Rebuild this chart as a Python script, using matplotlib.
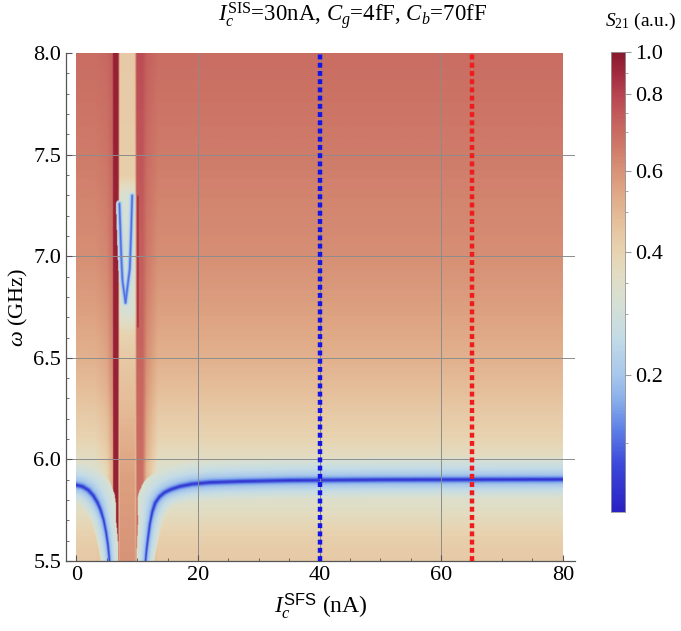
import numpy as np
import matplotlib
matplotlib.use("Agg")
import matplotlib.pyplot as plt
from matplotlib.colors import LinearSegmentedColormap

plt.rcParams['font.family'] = ['Liberation Serif', 'DejaVu Serif']
plt.rcParams['mathtext.fontset'] = 'custom'
plt.rcParams['mathtext.rm'] = 'Liberation Serif'
plt.rcParams['mathtext.it'] = 'Liberation Serif:italic'
plt.rcParams['mathtext.sf'] = 'Liberation Sans'

# --- values ---
# S21 far from any resonance, as a function of omega (GHz)
bg_omega = [5.5, 5.6, 5.7, 5.8, 5.95, 6.0, 6.1, 6.2, 6.35, 6.5, 6.75, 7.0, 7.5, 8.0]
bg_s21 = [0.44, 0.42, 0.38, 0.34, 0.33, 0.36, 0.40, 0.43, 0.48, 0.52, 0.57, 0.61, 0.66, 0.70]

# resonance line, left and right of the stripes (Ic in nA, omega in GHz)
res_left_ic = [0, 1, 2, 2.8, 3.5, 4.0, 4.5, 4.9, 5.2, 5.4, 5.5]
res_left_omega = [5.872, 5.865, 5.847, 5.82, 5.785, 5.75, 5.70, 5.64, 5.58, 5.52, 5.48]
res_right_ic = [11.3, 11.4, 11.55, 11.75, 12.1, 12.5, 13.0, 13.7, 14.5, 15.5, 17, 19, 22, 27, 35, 50, 80]
res_right_omega = [5.45, 5.5, 5.55, 5.6, 5.68, 5.74, 5.785, 5.815, 5.835, 5.85, 5.865,
                   5.877, 5.885, 5.89, 5.895, 5.898, 5.9]

# V-shaped resonance inside the pale stripe
v_ic = [7.1, 7.4, 7.6, 8.1, 8.8, 9.0, 9.2]
v_omega = [7.26, 7.0, 6.88, 6.77, 6.94, 7.10, 7.30]

# S21 across the resonance vs distance from it (screen px)
dip_px = [0, 1, 2, 3.5, 6, 10, 15, 22]
dip_s21 = [0.03, 0.07, 0.12, 0.17, 0.21, 0.25, 0.29, 0.33]
dipv_px = [0, 1, 2, 3.5]
dipv_s21 = [0.08, 0.15, 0.24, 0.3]

# vertical stripes around Ic = 6..11 nA
dark_ic = [5.9, 6.15, 6.85, 7.05]
dark_s21 = 0.95
mid_ic = [6.9, 7.2, 9.6, 9.9]
mid_omega = [5.5, 5.9, 6.2, 6.5, 6.62, 6.72, 7.0, 7.3, 7.4, 8.0]
mid_s21 = [0.60, 0.57, 0.50, 0.44, 0.40, 0.32, 0.30, 0.32, 0.42, 0.44]
red2_ic = [9.7, 9.95, 10.9, 11.6, 13.5]
red2_w = [0, 1, 1, 0.45, 0]
red2_omega = [5.5, 6.5, 8.0]
red2_s21 = [0.68, 0.72, 0.78]
halo_ic = [3.0, 5.0, 5.9]
halo_w = [0, 0.12, 0.4]
halo_s21 = 0.8
dots_ic = 10.15
dots_omega = [6.65, 7.3]

# markers of the two cuts
cut_ic = [40, 65]
cut_colors = ['#1414e6', '#ee1c1c']

# colour bar: tick values and their relative height on the bar
cb_values = [0.0, 0.2, 0.4, 0.6, 0.8, 1.0]
cb_frac = [0.0, 0.298, 0.565, 0.741, 0.909, 1.0]
cb_minor = [0.1, 0.3, 0.35, 0.5, 0.55, 0.7, 0.75, 0.9]

cmap = LinearSegmentedColormap.from_list('s21', [
    (0.00, '#2a22c4'), (0.10, '#3c48da'), (0.18, '#5f82e6'), (0.24, '#88aeea'),
    (0.298, '#a8c8ec'), (0.38, '#c4dce6'), (0.46, '#d8e0d2'), (0.52, '#e2dcc2'),
    (0.565, '#e8d4b2'), (0.63, '#e6c09c'), (0.69, '#e0aa88'), (0.741, '#d89478'),
    (0.80, '#ce7868'), (0.86, '#c45e5c'), (0.909, '#b84552'), (0.96, '#a02a3c'),
    (1.00, '#8a1a2e')])

# --- build the map ---
px_x, px_y = 6.08, 203.2  # screen px per nA and per GHz
x = np.linspace(0, 80, 900)
w = np.linspace(5.5, 8.0, 520)
X, W = np.meshgrid(x, w)


def lerp(a, b, t):
    return a * (1 - t) + b * t


def poly_dist(xs, ys):
    xs = np.asarray(xs) * px_x
    ys = np.asarray(ys) * px_y
    Xp, Wp = X * px_x, W * px_y
    d = np.full(X.shape, np.inf)
    for i in range(len(xs) - 1):
        dx, dy = xs[i + 1] - xs[i], ys[i + 1] - ys[i]
        t = np.clip(((Xp - xs[i]) * dx + (Wp - ys[i]) * dy) / (dx * dx + dy * dy), 0, 1)
        d = np.minimum(d, np.hypot(Xp - xs[i] - t * dx, Wp - ys[i] - t * dy))
    return d


S = np.interp(W, bg_omega, bg_s21)
S = lerp(S, np.interp(W, red2_omega, red2_s21), np.interp(X, red2_ic, red2_w))
S = lerp(S, halo_s21, np.interp(X, halo_ic, halo_w, right=0))
S = lerp(S, np.interp(W, mid_omega, mid_s21), np.interp(X, mid_ic, [0, 1, 1, 0]))
S = lerp(S, dark_s21, np.interp(X, dark_ic, [0, 1, 1, 0]))
on_dots = (np.abs(X - dots_ic) < 0.15) & (W > dots_omega[0]) & (W < dots_omega[1])
S[on_dots] = 0.88

scale = np.interp(W, [5.5, 5.7, 5.82, 5.9], [0.4, 0.55, 0.85, 1.0])
d_res = np.minimum(poly_dist(res_left_ic, res_left_omega),
                   poly_dist(res_right_ic, res_right_omega)) / scale
S = np.minimum(S, np.interp(d_res, dip_px, dip_s21, right=1.0))
S = np.minimum(S, np.interp(poly_dist(v_ic, v_omega), dipv_px, dipv_s21, right=1.0))

frac = np.interp(S, cb_values, cb_frac)

# --- figure ---
fig = plt.figure(figsize=(6.81, 6.31), dpi=100)
ax = fig.add_axes([0.0969, 0.1109, 0.7474, 0.805])
ax.imshow(frac, cmap=cmap, vmin=0, vmax=1, origin='lower', aspect='auto',
          extent=[0, 80, 5.5, 8.0], interpolation='bilinear', zorder=0)

for v in [20, 40, 60]:
    ax.axvline(v, color='#8c8c8c', lw=0.7, zorder=1)
for v in [6.0, 6.5, 7.0, 7.5]:
    ax.axhline(v, color='#8c8c8c', lw=0.7, zorder=1)
for c, col in zip(cut_ic, cut_colors):
    ax.plot([c, c], [5.5, 8.0], color=col, lw=3.2, linestyle=(0, (1.1, 0.75)),
            solid_capstyle='butt', zorder=3)

ax.set_xlim(-1.7, 82)
ax.set_ylim(5.5, 8.0)
for s in ['top', 'right']:
    ax.spines[s].set_visible(False)
for s in ['left', 'bottom']:
    ax.spines[s].set_color('#555555')
    ax.spines[s].set_linewidth(0.9)
ax.set_xticks([0, 20, 40, 60, 80])
ax.set_xticks(np.arange(0, 81, 5), minor=True)
ax.set_yticks([5.5, 6.0, 6.5, 7.0, 7.5, 8.0])
ax.set_yticklabels(['5.5', '6.0', '6.5', '7.0', '7.5', '8.0'])
ax.set_yticks(np.arange(5.5, 8.01, 0.1), minor=True)
ax.tick_params(which='both', direction='in', color='#555555', labelsize=16)
ax.tick_params(which='major', length=4.5, width=0.8)
ax.tick_params(which='minor', length=2.5, width=0.6)
ax.set_xlabel(r'$I_c^{\mathsf{SFS}}$ (nA)', fontsize=17, labelpad=5)
ax.set_ylabel(r'$\omega$ (GHz)', fontsize=16, labelpad=2)
fig.text(0.517, 0.975, r'$I_c^{\mathrm{SIS}}$=30nA, $C_g$=4fF, $C_b$=70fF',
         fontsize=16.5, ha='center', va='center')

cax = fig.add_axes([0.897, 0.1886, 0.0206, 0.729])
cax.imshow(np.linspace(0, 1, 400)[:, None], cmap=cmap, origin='lower', aspect='auto',
           extent=[0, 1, 0, 1])
cax.set_xticks([])
cax.yaxis.tick_right()
cax.set_yticks(cb_frac[1:])
cax.set_yticklabels(['%.1f' % v for v in cb_values[1:]])
cax.set_yticks(np.interp(cb_minor, cb_values, cb_frac), minor=True)
cax.tick_params(which='both', direction='out', color='#999999', labelsize=16)
cax.tick_params(which='major', length=4, width=0.8)
cax.tick_params(which='minor', length=2.5, width=0.6)
for s in cax.spines.values():
    s.set_color('#999999')
    s.set_linewidth(0.6)
fig.text(0.94, 0.966, r'$S_{21}$ (a.u.)', fontsize=14, ha='center', va='center')

fig.savefig('out.png', dpi=100)
